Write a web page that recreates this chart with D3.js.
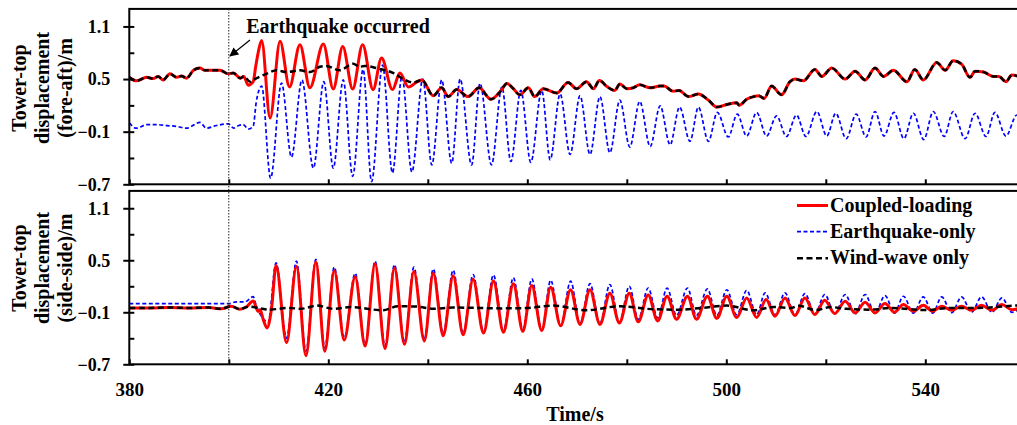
<!DOCTYPE html>
<html><head><meta charset="utf-8">
<script src="https://cdn.jsdelivr.net/npm/d3@7"></script>
<style>body{margin:0;background:#fff}svg{display:block}text{font-family:"Liberation Serif","Times New Roman",serif;font-weight:bold;fill:#000}</style>
</head><body><svg id="c" width="1017" height="425"></svg>
<script>
// ---------- data ([time s, displacement m]) ----------
const xTicks = [380,400,420,440,460,480,500,520,540,560];
const xLabels = [380,420,460,500,540];
const yMajor = [-0.7,-0.1,0.5,1.1];
const yMinor = [-0.4,0.2,0.8];
const seriesNames = ["Coupled-loading","Earthquake-only","Wind-wave only"];

// top panel: fore-aft
const topWind = [[380,0.52],[381.4,0.48],[383.5,0.52],[384.8,0.505],[385.8,0.53],[386.8,0.49],[388.2,0.56],[389.5,0.52],[390.5,0.535],[391.5,0.51],[392.9,0.60],[394.2,0.625],[395.2,0.60],[396.9,0.60],[398.2,0.60],[399.9,0.56],[400.9,0.57],[402.3,0.51],[403.0,0.53],[404.3,0.47],[405.6,0.51],[407.6,0.56],[409.6,0.60],[411.6,0.58],[414.3,0.60],[416.3,0.58],[418.3,0.64],[419.6,0.65],[422.3,0.60],[425.0,0.675],[426.3,0.64],[427.3,0.65],[430.0,0.62],[433.0,0.57],[435.1,0.50],[437.1,0.46],[438.8,0.49],[441.1,0.31],[442.8,0.40],[444.1,0.30],[445.8,0.38],[448.1,0.30],[450.3,0.40],[452.7,0.27],[454.6,0.36],[455.9,0.45],[457.2,0.39],[458.5,0.32],[460.2,0.40],[461.5,0.30],[463.2,0.39],[465.9,0.34],[468.2,0.46],[469.9,0.39],[471.9,0.47],[473.3,0.39],[474.5,0.485],[476.0,0.415],[477.6,0.37],[478.6,0.445],[480.0,0.39],[481.3,0.40],[482.6,0.435],[484.7,0.40],[486.7,0.42],[487.5,0.42],[489.3,0.36],[490.5,0.37],[492.4,0.30],[494.4,0.33],[496.4,0.26],[498.1,0.18],[500.1,0.21],[502.1,0.23],[502.6,0.20],[504.1,0.27],[505.5,0.30],[506.5,0.31],[507.6,0.28],[509.1,0.42],[511.1,0.32],[512.8,0.47],[513.8,0.50],[515.5,0.48],[517.8,0.61],[519.2,0.53],[521.2,0.625],[523.9,0.50],[525.9,0.59],[527.9,0.49],[529.9,0.625],[531.6,0.53],[533.6,0.60],[536.3,0.47],[537.9,0.61],[539.6,0.49],[542.3,0.69],[544.0,0.60],[545.6,0.71],[547.3,0.67],[549.0,0.52],[550.0,0.59],[551.7,0.58],[553.7,0.53],[554.8,0.53],[556.2,0.47],[557.4,0.545],[560,0.50]];
const topCoupledQuake = [[403.0,0.53],[403.9,0.43],[404.9,0.47],[405.4,0.64],[405.9,0.80],[406.6,0.94],[408.3,0.055],[410.3,0.93],[412.2,0.41],[414.3,0.89],[416.3,0.40],[419.0,0.90],[421.0,0.386],[422.9,0.87],[424.9,0.386],[426.9,0.89],[429.0,0.38],[430.7,0.74],[432.9,0.38],[434.4,0.57],[436.1,0.41],[437.9,0.47]];
const topQuake = [[380,0.0],[381.4,-0.06],[383.5,-0.02],[385.5,-0.02],[387.5,-0.03],[389.5,-0.04],[391.5,-0.06],[394.2,0.005],[395.5,-0.06],[397.5,-0.03],[399.9,-0.01],[401.0,-0.06],[402.0,-0.03],[402.9,-0.02],[403.9,-0.07],[404.9,-0.04],[405.5,0.23],[406.1,0.38],[406.6,0.42],[408.4,-0.63],[410.6,0.455],[412.6,-0.39],[414.7,0.49],[417.0,-0.515],[419.1,0.47],[421.0,-0.515],[423.0,0.49],[424.9,-0.61],[427.0,0.61],[428.7,-0.67],[430.9,0.66],[432.9,-0.57],[434.8,0.53],[436.8,-0.56],[439.0,0.50],[440.8,-0.48],[442.8,0.49],[444.8,-0.46],[446.5,0.50],[448.8,-0.48],[450.5,0.45],[452.8,-0.48],[454.9,0.41],[456.7,-0.44],[458.7,0.37],[460.7,-0.45],[462.9,0.37],[464.6,-0.42],[466.6,0.33],[468.6,-0.36],[470.6,0.31],[472.6,-0.36],[474.6,0.30],[476.6,-0.34],[478.6,0.26],[480.6,-0.275],[482.6,0.245],[484.7,-0.27],[486.7,0.195],[488.7,-0.25],[490.6,0.18],[492.7,-0.21],[494.4,0.18],[496.4,-0.21],[498.2,0.12],[500.4,-0.16],[502.2,0.10],[504.1,-0.15],[506.1,0.12],[508.1,-0.15],[510.1,0.08],[512.1,-0.155],[514.1,0.09],[516.0,-0.155],[518.2,0.13],[520.2,-0.15],[522.0,0.11],[524.1,-0.18],[526.1,0.10],[528.1,-0.16],[529.9,0.13],[531.7,-0.15],[533.7,0.12],[535.7,-0.18],[537.6,0.11],[539.7,-0.19],[541.6,0.13],[543.8,-0.155],[545.6,0.13],[548.0,-0.18],[550.0,0.11],[552.2,-0.155],[554.0,0.12],[556.2,-0.15],[558.4,0.09],[560,-0.02]];

// bottom panel: side-side
const botWind = [[380,-0.05],[384,-0.05],[388,-0.045],[392,-0.05],[396,-0.045],[398.5,-0.06],[400.5,-0.03],[402.2,-0.065],[404,-0.035],[406,-0.05],[408,-0.07],[412,-0.05],[414.5,-0.06],[417.7,-0.023],[421,-0.06],[424.5,-0.04],[431,-0.077],[434,-0.03],[438,-0.035],[441,-0.06],[445,-0.045],[450,-0.05],[455,-0.055],[460,-0.05],[465.2,-0.023],[471.9,-0.077],[478.6,-0.03],[485.3,-0.065],[490.7,-0.07],[495,-0.05],[500.1,-0.023],[505.4,-0.077],[509.5,-0.04],[513,-0.05],[514.5,-0.025],[518,-0.075],[521,-0.04],[524,-0.06],[529,-0.07],[533,-0.05],[540,-0.075],[545,-0.05],[550,-0.05],[553,-0.045],[556,-0.03],[560,-0.015]];
const botCoupled = [[380,-0.05],[384,-0.05],[388,-0.045],[392,-0.05],[396,-0.045],[398.5,-0.06],[400.5,-0.03],[402.2,-0.065],[403.5,-0.04],[404.9,0.03],[405.9,-0.09],[406.3,-0.07],[406.9,-0.18],[407.7,-0.28],[408.6,-0.05],[409.5,0.44],[411.6,-0.45],[413.6,0.43],[415.5,-0.60],[417.5,0.48],[419.3,-0.55],[421.2,0.38],[423.2,-0.42],[425.4,0.31],[427.4,-0.49],[429.4,0.46],[431.4,-0.52],[433.3,0.41],[435.3,-0.47],[437.2,0.37],[439.3,-0.43],[441.1,0.35],[443.1,-0.37],[445.1,0.32],[447.1,-0.36],[449.1,0.28],[451.2,-0.34],[453.2,0.26],[455.2,-0.33],[457.2,0.23],[459.1,-0.32],[460.9,0.21],[462.9,-0.31],[464.7,0.19],[466.7,-0.255],[468.7,0.16],[470.6,-0.24],[472.6,0.16],[474.6,-0.24],[476.6,0.12],[478.5,-0.225],[480.5,0.12],[482.3,-0.21],[484.3,0.10],[486.2,-0.2],[488.1,0.085],[490.0,-0.18],[492.2,0.085],[494.0,-0.18],[496.2,0.085],[498.1,-0.17],[500.1,0.085],[502.1,-0.16],[504.1,0.066],[506.1,-0.16],[508.0,0.047],[509.8,-0.146],[511.8,0.066],[513.8,-0.138],[515.8,0.066],[517.8,-0.126],[519.8,0.04],[521.8,-0.115],[523.9,0.028],[525.9,-0.107],[527.9,0.016],[529.9,-0.107],[531.9,0.0],[533.8,-0.1],[535.6,-0.01],[537.6,-0.088],[539.6,-0.02],[541.5,-0.088],[543.3,-0.03],[545.3,-0.077],[547.3,-0.03],[549.3,-0.077],[551.3,-0.02],[553.4,-0.077],[555.4,-0.01],[557.4,-0.07],[560,-0.03]];
const botQuake = [[380,0.0],[400,0.0],[401.5,0.02],[403.2,0.02],[404.9,0.08],[405.5,-0.02],[406.1,-0.10],[406.9,-0.17],[407.9,-0.22],[409.5,0.47],[411.6,-0.40],[413.6,0.49],[415.5,-0.55],[417.5,0.51],[419.3,-0.51],[421.2,0.42],[423.2,-0.395],[425.4,0.35],[427.4,-0.47],[429.4,0.49],[431.4,-0.49],[433.3,0.45],[435.3,-0.445],[437.2,0.42],[439.3,-0.415],[441.1,0.40],[443.1,-0.345],[445.1,0.385],[447.1,-0.345],[449.1,0.335],[451.2,-0.32],[453.2,0.33],[455.2,-0.31],[457.2,0.30],[459.1,-0.295],[460.9,0.285],[462.9,-0.30],[464.7,0.27],[466.7,-0.26],[468.7,0.26],[470.6,-0.23],[472.6,0.23],[474.6,-0.23],[476.6,0.22],[478.5,-0.215],[480.5,0.20],[482.3,-0.184],[484.3,0.18],[486.2,-0.165],[488.1,0.18],[490.0,-0.138],[492.2,0.18],[494.0,-0.138],[496.2,0.17],[498.1,-0.138],[500.1,0.16],[502.1,-0.13],[504.1,0.154],[506.1,-0.13],[507.8,0.124],[509.8,-0.13],[511.8,0.124],[513.8,-0.13],[515.8,0.116],[517.8,-0.12],[519.8,0.105],[521.8,-0.12],[523.9,0.105],[525.9,-0.12],[527.9,0.105],[529.9,-0.115],[531.9,0.093],[533.8,-0.11],[535.6,0.085],[537.6,-0.11],[539.6,0.078],[541.5,-0.11],[543.3,0.078],[545.3,-0.105],[547.3,0.078],[549.3,-0.10],[551.3,0.078],[553.4,-0.10],[555.4,0.066],[557.4,-0.10],[560,0.0]];

// coupled top = wind-wave before/after the quake transient, own values during it
const topCoupled = topWind.filter(d=>d[0]<403).concat(topCoupledQuake, topWind.filter(d=>d[0]>438));

// ---------- layout ----------
const svg = d3.select("#c");
const left = 129.3;
const x = d3.scaleLinear().domain([380,560]).range([left, left+180*4.975]);
const panels = [
  {y: d3.scaleLinear().domain([-0.7,1.3]).range([184.3, 8.9]), title:["Tower-top","displacement","(fore-aft)/m"], cy:88, data:[topQuake, topCoupled, topWind], labels:false},
  {y: d3.scaleLinear().domain([-0.7,1.3]).range([364.3, 190.9]), title:["Tower-top","displacement","(side-side)/m"], cy:268, data:[botQuake, botCoupled, botWind], labels:true}
];
const styles = [
  {stroke:"#ff0000", width:3, dash:null},
  {stroke:"#0000ff", width:1.7, dash:"4,2.5"},
  {stroke:"#000000", width:2.5, dash:"6,3.5"}
];
const styleFor = [styles[1], styles[0], styles[2]];

const clipW = x.range()[1]-left;
panels.forEach((p,pi)=>{
  const [y0,y1] = p.y.range();
  svg.append("clipPath").attr("id","clip"+pi).append("rect")
    .attr("x",left).attr("y",y1).attr("width",clipW).attr("height",y0-y1);
  const g = svg.append("g").attr("clip-path",`url(#clip${pi})`);
  const line = d3.line().x(d=>x(d[0])).y(d=>p.y(d[1])).curve(d3.curveMonotoneX);
  p.data.forEach((ser,si)=>{
    const s = styleFor[si];
    g.append("path").datum(ser).attr("d",line).attr("fill","none")
      .attr("stroke",s.stroke).attr("stroke-width",s.width)
      .attr("stroke-dasharray",s.dash).attr("stroke-linejoin","round");
  });
  svg.append("rect").attr("x",left).attr("y",y1).attr("width",clipW).attr("height",y0-y1)
    .attr("fill","none").attr("stroke","#000").attr("stroke-width",2);
  const ay = svg.append("g").attr("transform",`translate(${left},0)`)
    .call(d3.axisLeft(p.y).tickValues(yMajor).tickSize(6).tickPadding(13).tickFormat(d3.format(".1f")));
  ay.select(".domain").remove();
  ay.selectAll(".tick line").attr("x1",5).attr("x2",-6).attr("stroke-width",2);
  ay.selectAll("text").style("font-size","18px").style("font-family",'"Liberation Serif",serif').style("font-weight","bold");
  const am = svg.append("g").attr("transform",`translate(${left},0)`)
    .call(d3.axisLeft(p.y).tickValues(yMinor).tickSize(-5).tickFormat(""));
  am.select(".domain").remove();
  am.selectAll(".tick line").attr("stroke-width",2);
  const ax = svg.append("g").attr("transform",`translate(0,${y0})`)
    .call(d3.axisBottom(x).tickValues(xTicks).tickSize(-5).tickPadding(18)
      .tickFormat(d => p.labels && xLabels.includes(d) ? d : ""));
  ax.select(".domain").remove();
  ax.selectAll(".tick line").attr("stroke-width",2);
  ax.selectAll("text").style("font-size","19px").style("font-family",'"Liberation Serif",serif').style("font-weight","bold");
  const t = svg.append("text").attr("transform",`translate(26,${p.cy}) rotate(-90)`)
    .attr("text-anchor","middle").style("font-size","20px");
  p.title.forEach((s,i)=>t.append("tspan").attr("x",0).attr("dy",i?23:0).text(s));
});

svg.append("line").attr("x1",x(400)).attr("x2",x(400)).attr("y1",9).attr("y2",364.3)
  .attr("stroke","#222").attr("stroke-width",1).attr("stroke-dasharray","1.5,1.5");
svg.append("text").attr("x",338).attr("y",33).attr("text-anchor","middle").style("font-size","20px").text("Earthquake occurred");
svg.append("defs").append("marker").attr("id","ah").attr("viewBox","0 0 10 10").attr("refX",9).attr("refY",5)
  .attr("markerWidth",10).attr("markerHeight",9).attr("markerUnits","userSpaceOnUse").attr("orient","auto")
  .append("path").attr("d","M0,0L10,5L0,10z").attr("fill","#000");
svg.append("line").attr("x1",250).attr("y1",40).attr("x2",230).attr("y2",56)
  .attr("stroke","#000").attr("stroke-width",1.2).attr("marker-end","url(#ah)");

svg.append("text").attr("x",575).attr("y",421).attr("text-anchor","middle").style("font-size","20px").text("Time/s");

const legY = [205.5, 231.7, 258.3];
seriesNames.forEach((n,i)=>{
  const s = styles[i];
  svg.append("line").attr("x1",797).attr("x2",828).attr("y1",legY[i]).attr("y2",legY[i])
    .attr("stroke",s.stroke).attr("stroke-width",s.width).attr("stroke-dasharray",s.dash);
  svg.append("text").attr("x",830).attr("y",legY[i]+6).style("font-size","20px").text(n);
});
</script></body></html>
